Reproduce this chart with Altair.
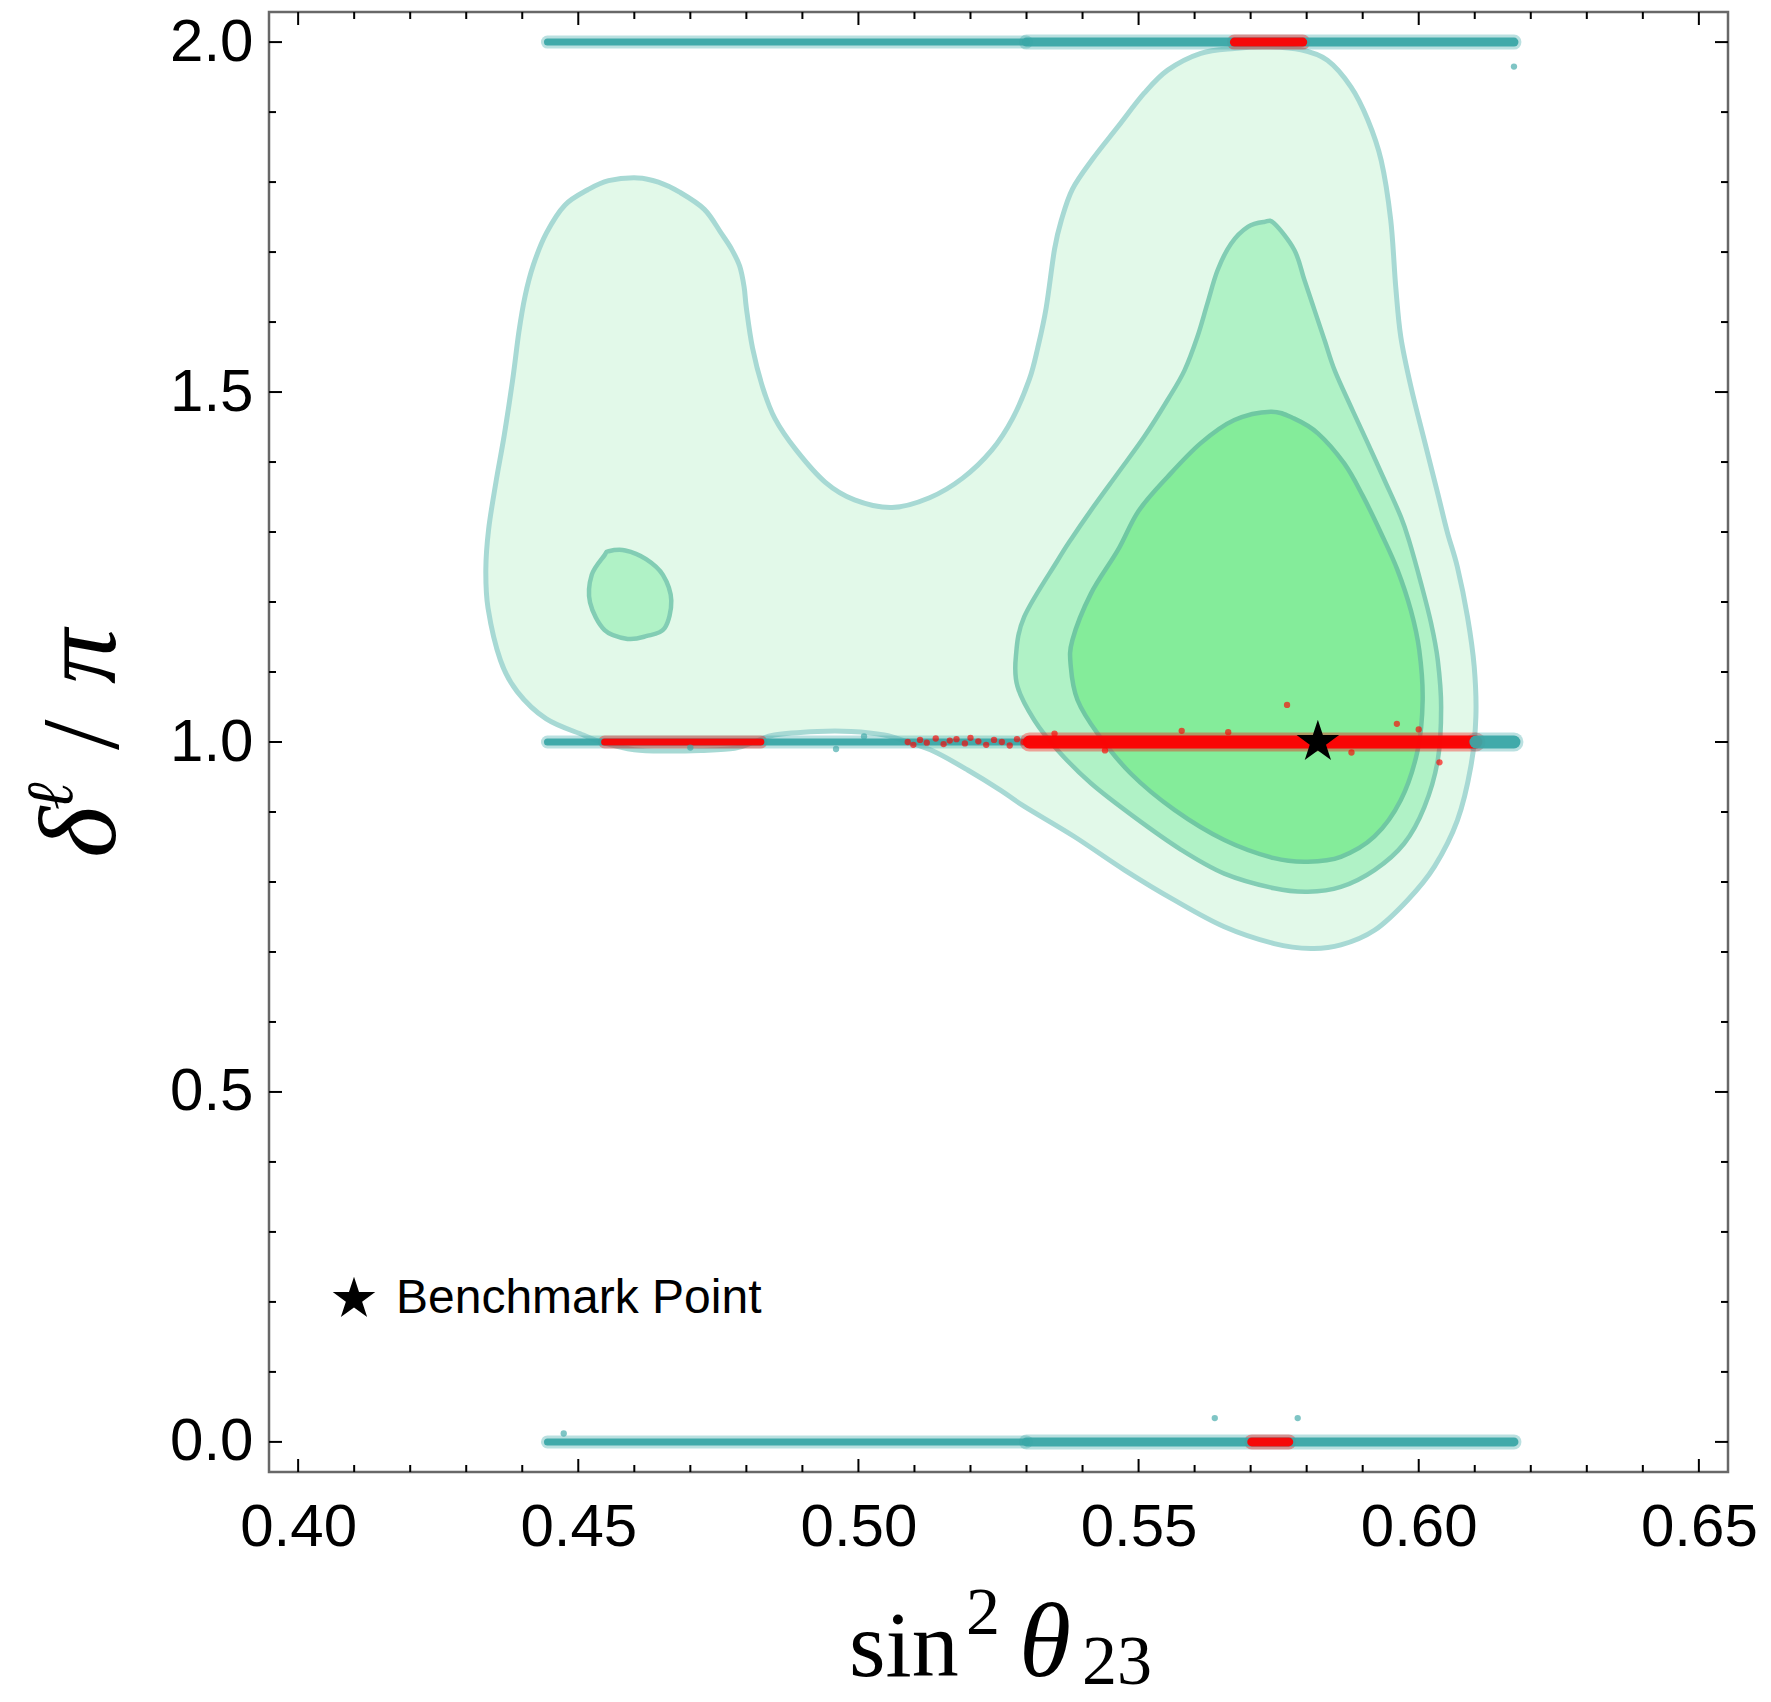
import altair as alt
import pandas as pd

# ---------------- data ----------------
# outer (lightest) credible region
outer_x = [0.4606,0.4643,0.4680,0.4725,0.4755,0.4773,0.4788,0.4796,0.4800,0.4811,0.4829,0.4851,0.4889,0.4941,0.4993,0.5060,0.5127,0.5186,0.5238,0.5275,0.5305,0.5320,0.5335,0.5350,0.5362,0.5382,0.5418,0.5463,0.5510,0.5552,0.5611,0.5671,0.5730,0.5790,0.5837,0.5879,0.5909,0.5933,0.5950,0.5959,0.5968,0.5986,0.6010,0.6034,0.6051,0.6069,0.6087,0.6099,0.6102,0.6093,0.6069,0.6028,0.5980,0.5921,0.5861,0.5808,0.5742,0.5653,0.5564,0.5475,0.5385,0.5296,0.5254,0.5195,0.5136,0.5088,0.5046,0.4987,0.4927,0.4850,0.4814,0.4779,0.4719,0.4660,0.4600,0.4541,0.4509,0.4443,0.4391,0.4361,0.4339,0.4335,0.4340,0.4353,0.4368,0.4383,0.4394,0.4405,0.4420,0.4443,0.4476,0.4517,0.4554]
outer_y = [1.806,1.800,1.786,1.761,1.727,1.705,1.680,1.650,1.620,1.563,1.507,1.462,1.417,1.371,1.346,1.335,1.349,1.377,1.417,1.462,1.518,1.563,1.620,1.704,1.745,1.790,1.833,1.879,1.927,1.960,1.984,1.991,1.993,1.989,1.974,1.936,1.889,1.831,1.746,1.650,1.579,1.508,1.431,1.355,1.300,1.250,1.179,1.108,1.036,0.965,0.888,0.822,0.774,0.731,0.710,0.705,0.712,0.736,0.774,0.817,0.865,0.908,0.931,0.960,0.986,1.000,1.010,1.015,1.015,1.010,1.000,0.991,0.988,0.987,0.989,1.000,1.010,1.033,1.072,1.117,1.191,1.247,1.304,1.371,1.439,1.518,1.586,1.637,1.682,1.727,1.767,1.789,1.802]

# small island (middle level)
island_x = [0.4554,0.4584,0.4621,0.4651,0.4666,0.4654,0.4621,0.4588,0.4547,0.4521,0.4524,0.4547]
island_y = [1.2726,1.2737,1.2613,1.2387,1.2020,1.1625,1.1512,1.1473,1.1597,1.1992,1.2387,1.2670]

# middle region
mid_x = [0.5724,0.5742,0.5778,0.5796,0.5814,0.5832,0.5850,0.5879,0.5909,0.5939,0.5968,0.5983,0.6004,0.6022,0.6034,0.6040,0.6034,0.6010,0.5974,0.5921,0.5861,0.5802,0.5742,0.5653,0.5576,0.5492,0.5415,0.5356,0.5314,0.5284,0.5281,0.5296,0.5356,0.5379,0.5415,0.5463,0.5510,0.5552,0.5582,0.5605,0.5623,0.5641,0.5665,0.5695]
mid_y = [1.743,1.741,1.703,1.660,1.617,1.574,1.531,1.479,1.427,1.374,1.322,1.287,1.227,1.170,1.117,1.050,0.974,0.907,0.855,0.817,0.793,0.786,0.791,0.812,0.846,0.893,0.941,0.988,1.031,1.079,1.122,1.179,1.260,1.289,1.331,1.384,1.436,1.489,1.531,1.579,1.627,1.674,1.712,1.736]

# inner region
in_x = [0.5736,0.5778,0.5820,0.5867,0.5900,0.5933,0.5962,0.5986,0.6001,0.6007,0.5998,0.5968,0.5921,0.5861,0.5802,0.5742,0.5653,0.5564,0.5486,0.5427,0.5391,0.5379,0.5382,0.5415,0.5463,0.5500,0.5552,0.5611,0.5671]
in_y = [1.472,1.462,1.441,1.398,1.352,1.298,1.246,1.188,1.131,1.060,0.988,0.917,0.865,0.836,0.829,0.834,0.860,0.903,0.955,1.012,1.060,1.108,1.146,1.212,1.274,1.330,1.379,1.427,1.460]

# scan point bands (ranges of sin^2 theta23 covered at each delta value)
sparse_x0 = [0.4445, 0.4445, 0.4445, 0.4547]
sparse_x1 = [0.5300, 0.6100, 0.5300, 0.4826]
sparse_y = [2.0, 1.0, 0.0, 1.0]
sparse_kind = ["teal", "teal", "teal", "red"]

medium_x0 = [0.5300, 0.5300, 0.5671, 0.5702]
medium_x1 = [0.6170, 0.6170, 0.5793, 0.5768]
medium_y = [2.0, 0.0, 2.0, 0.0]
medium_kind = ["teal", "teal", "red", "red"]

dense_x0 = [0.5305, 0.6102]
dense_x1 = [0.6102, 0.6170]
dense_y = [1.0, 1.0]
dense_kind = ["red", "teal"]

# isolated points
red_pts_x = [0.5088,0.5098,0.5110,0.5122,0.5138,0.5152,0.5163,0.5175,0.5190,0.5200,0.5214,0.5228,0.5242,0.5256,0.5270,0.5283,0.5295,0.5765,0.5961,0.6037,0.5577,0.5350,0.5440,0.5660,0.5880,0.6000]
red_pts_y = [1.000,0.996,1.003,0.999,1.005,0.997,1.002,1.004,0.998,1.006,1.001,0.996,1.003,1.000,0.995,1.004,1.000,1.053,1.026,0.971,1.016,1.012,0.988,1.014,0.985,1.018]
teal_pts_x = [0.6170, 0.5636, 0.5784, 0.4474, 0.4960, 0.5010, 0.4700]
teal_pts_y = [1.965, 0.034, 0.034, 0.012, 0.990, 1.008, 0.992]

bench_x = [0.582]
bench_y = [1.0]
bench_name = ["Benchmark Point"]

x_major = [0.40, 0.45, 0.50, 0.55, 0.60, 0.65]
x_minor = [0.41,0.42,0.43,0.44,0.46,0.47,0.48,0.49,0.51,0.52,0.53,0.54,0.56,0.57,0.58,0.59,0.61,0.62,0.63,0.64]
y_major = [0.0, 0.5, 1.0, 1.5, 2.0]
y_minor = [0.1,0.2,0.3,0.4,0.6,0.7,0.8,0.9,1.1,1.2,1.3,1.4,1.6,1.7,1.8,1.9]

# ---------------- chart ----------------
W, H = 1459, 1460
xscale = alt.Scale(domain=[0.3948, 0.6552], nice=False, zero=False)
yscale = alt.Scale(domain=[-0.043, 2.043], nice=False, zero=False)
LABEL_FONT = "Liberation Sans"
SERIF = "Liberation Serif"

xaxis = alt.Axis(values=x_major, format=".2f", ticks=False, domain=False, grid=False,
                 labelFontSize=60, labelFont=LABEL_FONT, labelColor="black",
                 labelPadding=26, labelFlush=False, labelOverlap=False, title=None)
yaxis = alt.Axis(values=y_major, format=".1f", ticks=False, domain=False, grid=False,
                 labelFontSize=60, labelFont=LABEL_FONT, labelColor="black",
                 labelPadding=16, labelFlush=False, labelOverlap=False, title=None)


def X(f):
    return alt.X(f"{f}:Q", scale=xscale, axis=xaxis)


def Y(f):
    return alt.Y(f"{f}:Q", scale=yscale, axis=yaxis)


def polygon(xv, yv, fill, stroke, sw):
    df = pd.DataFrame({"x": xv, "y": yv, "i": list(range(len(xv)))})
    return alt.Chart(df).mark_line(interpolate="cardinal-closed", fill=fill, stroke=stroke,
                                   strokeWidth=sw, strokeJoin="round").encode(
        x=X("x"), y=Y("y"), order=alt.Order("i:Q"))


outer = polygon(outer_x, outer_y, "#e2f9e9", "#a7d9d4", 5)
island = polygon(island_x, island_y, "#b0f2c6", "#82cdb4", 4.5)
middle = polygon(mid_x, mid_y, "#b0f2c6", "#82cdb4", 4.5)
inner = polygon(in_x, in_y, "#84ec9a", "#6fc8a2", 4.5)

color = alt.Color("kind:N", scale=alt.Scale(domain=["teal", "red"], range=["#3aa6a6", "#ff0000"]), legend=None)


def bands(x0, x1, yv, kind, w):
    df = pd.DataFrame({"x0": x0, "x1": x1, "y": yv, "kind": kind})
    base = alt.Chart(df).encode(x=X("x0"), x2=alt.X2("x1:Q"), y=Y("y"), color=color)
    halo = base.mark_rule(strokeWidth=w + 6, strokeCap="round", opacity=0.35)
    core = base.mark_rule(strokeWidth=w, strokeCap="round", opacity=0.95)
    return halo + core


sparse = bands(sparse_x0, sparse_x1, sparse_y, sparse_kind, 7)
medium = bands(medium_x0, medium_x1, medium_y, medium_kind, 9)
dense = bands(dense_x0, dense_x1, dense_y, dense_kind, 13)

pts_df = pd.DataFrame({
    "x": red_pts_x + teal_pts_x,
    "y": red_pts_y + teal_pts_y,
    "kind": ["red"] * len(red_pts_x) + ["teal"] * len(teal_pts_x),
})
pts = alt.Chart(pts_df).mark_circle(size=40, opacity=0.65).encode(x=X("x"), y=Y("y"), color=color)

STAR = "M0,-1L0.2245,-0.309L0.9511,-0.309L0.3633,0.118L0.5878,0.809L0,0.382L-0.5878,0.809L-0.3633,0.118L-0.9511,-0.309L-0.2245,-0.309Z"
bench_df = pd.DataFrame({"x": bench_x, "y": bench_y, "name": bench_name})
star = alt.Chart(bench_df).mark_point(filled=True, color="black", opacity=1, strokeWidth=0, size=2000).encode(
    x=X("x"), y=Y("y"),
    shape=alt.Shape("name:N", scale=alt.Scale(domain=bench_name, range=[STAR]),
                    legend=alt.Legend(title=None, orient="none", legendX=61, legendY=1263,
                                      labelFontSize=48, labelFont=LABEL_FONT, labelColor="black",
                                      labelLimit=0, symbolSize=2000, symbolFillColor="black",
                                      symbolStrokeWidth=0, symbolOpacity=1, labelOffset=18,
                                      padding=0)))

# inward ticks on all four sides
def xticks(vals, length):
    df = pd.DataFrame({"v": vals})
    b = alt.Chart(df).mark_rule(color="black", strokeWidth=2)
    bottom = b.encode(x=X("v"), y=alt.value(H), y2=alt.value(H - length))
    top = b.encode(x=X("v"), y=alt.value(0), y2=alt.value(length))
    return bottom + top


def yticks(vals, length):
    df = pd.DataFrame({"v": vals})
    b = alt.Chart(df).mark_rule(color="black", strokeWidth=2)
    left = b.encode(y=Y("v"), x=alt.value(0), x2=alt.value(length))
    right = b.encode(y=Y("v"), x=alt.value(W), x2=alt.value(W - length))
    return left + right


ticks = xticks(x_major, 13) + xticks(x_minor, 7) + yticks(y_major, 13) + yticks(y_minor, 7)

one = pd.DataFrame({"a": [0]})


def label(text, x, y, size, style="normal", angle=0, font=SERIF):
    return alt.Chart(one).mark_text(text=text, font=font, fontSize=size, fontStyle=style,
                                    align="left", baseline="alphabetic", angle=angle,
                                    color="black").encode(x=alt.value(x), y=alt.value(y))


titles = (
    label("sin", 580, 1664, 94)
    + label("2", 697, 1622, 68)
    + label("θ", 750, 1664, 106, "italic")
    + label("23", 813, 1672, 70)
    + label("δ", -154, 846, 110, "italic", 270)
    + label("ℓ", -197, 798, 66, "italic", 270)
    + label("/", -151, 738, 110, "normal", 270)
    + label("π", -154, 672, 110, "italic", 270)
)

chart = alt.layer(outer, island, middle, inner, sparse, medium, dense, pts, star, ticks, titles).properties(
    width=W, height=H,
    autosize=alt.AutoSizeParams(type="none"),
    padding={"left": 269, "top": 12, "right": 43, "bottom": 230},
    background="white",
).configure_view(stroke="#686868", strokeWidth=2.5)

chart.save("out.html", embed_options={"renderer": "svg", "actions": False})
